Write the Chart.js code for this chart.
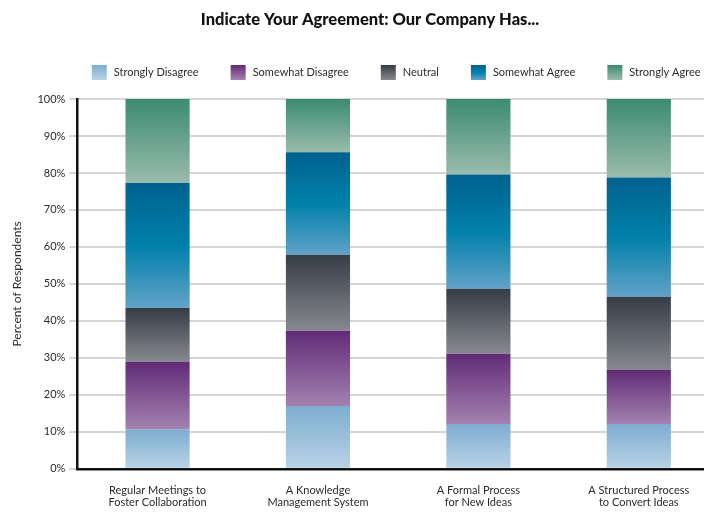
<!DOCTYPE html>
<html>
<head>
<meta charset="utf-8">
<script src="https://cdn.jsdelivr.net/npm/chart.js@4/dist/chart.umd.min.js"></script>
<style>
  html, body { margin: 0; padding: 0; background: #fff; overflow: hidden; }
  #wrap { width: 740px; height: 512px; }
</style>
</head>
<body>
<div id="wrap"><canvas id="agreeChart" width="740" height="512"></canvas></div>
<script>
// Survey answers, percent of respondents per statement
var categories = [
    ['Regular Meetings to', 'Foster Collaboration'],
    ['A Knowledge', 'Management System'],
    ['A Formal Process', 'for New Ideas'],
    ['A Structured Process', 'to Convert Ideas']
];
var seriesNames = ['Strongly Disagree', 'Somewhat Disagree', 'Neutral', 'Somewhat Agree', 'Strongly Agree'];
var stronglyDisagree = [10.7, 17.0, 12.1, 12.1];
var somewhatDisagree = [18.2, 20.3, 19.0, 14.6];
var neutral = [14.6, 20.6, 17.6, 19.8];
var somewhatAgree = [33.8, 27.7, 30.9, 32.3];
var stronglyAgree = [22.7, 14.4, 20.4, 21.2];
var yTicks = [0, 10, 20, 30, 40, 50, 60, 70, 80, 90, 100];
var titleText = 'Indicate Your Agreement: Our Company Has...';

var series = [stronglyDisagree, somewhatDisagree, neutral, somewhatAgree, stronglyAgree];

// top -> bottom colour stops for each band
var shades = [
    ['#7eadd0', '#b9d3e6'],
    ['#612b77', '#a382b0'],
    ['#353d47', '#88898f'],
    ['#00618f', '#0180aa', '#62a2c8'],
    ['#3b8b71', '#9abbad']
];

var textColor = '#2b2b2b';

function fillStops(g, stops) {
    stops.forEach(function (c, j) {
        g.addColorStop(j / (stops.length - 1), c);
    });
    return g;
}

// vertical gradient spanning one stacked segment
function segmentFill(ctx) {
    var chart = ctx.chart;
    var d = ctx.datasetIndex;
    var stops = shades[d];
    if (ctx.type !== 'data' || !chart.chartArea) return stops[0];
    var i = ctx.dataIndex;
    var base = 0;
    for (var k = 0; k < d; k++) base += series[k][i];
    var y = chart.scales.y;
    var top = y.getPixelForValue(base + series[d][i]);
    var bottom = y.getPixelForValue(base);
    return fillStops(chart.ctx.createLinearGradient(0, top, 0, bottom), stops);
}

// heading + one-row legend (legend centred over the plot)
var headerPlugin = {
    id: 'header',
    afterDraw: function (chart) {
        var c = chart.ctx;
        var area = chart.chartArea;
        c.save();
        c.textBaseline = 'middle';

        c.font = '900 16.5px Lato';
        c.fillStyle = '#111';
        c.textAlign = 'center';
        c.fillText(titleText, chart.width / 2, 20);

        var box = 15, textGap = 7, itemGap = 32, legendY = 72.5;
        c.font = '11px Lato';
        c.textAlign = 'left';
        var widths = seriesNames.map(function (n) { return box + textGap + c.measureText(n).width; });
        var total = widths.reduce(function (a, b) { return a + b; }, 0) + itemGap * (widths.length - 1);
        var x = (area.left + area.right) / 2 - total / 2 - 2;
        seriesNames.forEach(function (name, d) {
            var top = legendY - box / 2;
            c.fillStyle = fillStops(c.createLinearGradient(0, top, 0, top + box), shades[d]);
            c.fillRect(x, top, box, box);
            c.fillStyle = textColor;
            c.fillText(name, x + box + textGap, legendY);
            x += widths[d] + itemGap;
        });
        c.restore();
    }
};

var datasets = series.map(function (values, d) {
    return {
        label: seriesNames[d],
        data: values,
        backgroundColor: segmentFill,
        borderWidth: 0,
        categoryPercentage: 1,
        barPercentage: 0.4
    };
});

new Chart(document.getElementById('agreeChart').getContext('2d'), {
    type: 'bar',
    data: { labels: categories, datasets: datasets },
    plugins: [headerPlugin],
    options: {
        responsive: false,
        animation: false,
        layout: { padding: { top: 99, left: 4, right: 21, bottom: -13 } },
        plugins: {
            title: { display: false },
            legend: { display: false },
            tooltip: { enabled: false }
        },
        scales: {
            x: {
                stacked: true,
                grid: { display: false, drawTicks: false },
                border: { display: true, color: '#111', width: 2.5 },
                ticks: {
                    color: textColor,
                    font: { family: 'Lato', size: 11, lineHeight: 1.1 },
                    padding: 16,
                    maxRotation: 0
                }
            },
            y: {
                stacked: true,
                min: 0,
                max: 100,
                afterBuildTicks: function (scale) {
                    scale.ticks = yTicks.map(function (v) { return { value: v }; });
                },
                grid: { color: '#d5d5d5', lineWidth: 2, tickLength: 8 },
                border: { display: true, color: '#111', width: 2.5 },
                ticks: {
                    color: textColor,
                    font: { family: 'Lato', size: 11 },
                    padding: 4,
                    callback: function (v) { return v + '%'; }
                },
                title: {
                    display: true,
                    text: 'Percent of Respondents',
                    color: textColor,
                    font: { family: 'Lato', size: 12 },
                    padding: { top: 6, bottom: 9 }
                }
            }
        }
    }
});
</script>
</body>
</html>
